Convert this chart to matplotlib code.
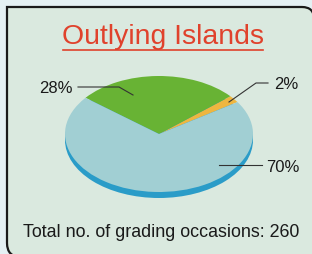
import matplotlib
matplotlib.use("Agg")
import matplotlib.pyplot as plt
from matplotlib.path import Path
from matplotlib.patches import PathPatch, Ellipse
import numpy as np

title = "Outlying Islands"
categories = ["Grade 2", "Grade 1", "Grade 3"]
values = [2, 28, 70]
labels = ["2%", "28%", "70%"]
colors = ["#eeb640", "#68b334", "#a1cfd3"]
footer = "Total no. of grading occasions: 260"

W, H = 312, 255
fig = plt.figure(figsize=(W / 100, H / 100), dpi=100)
fig.patch.set_facecolor("#e4f0f3")
plt.rcParams['font.family'] = ['Liberation Sans', 'DejaVu Sans']

def fx(x):
    return x / W

def fy(y):
    return 1 - y / H

# panel box
L, T, R, B = 7, 8, 314, 258
r1, r2 = 12, 14
verts = [(L, T), (R - r1, T), (R, T), (R, T + r1), (R, B), (L + r2, B), (L, B), (L, B - r2), (L, T)]
codes = [Path.MOVETO, Path.LINETO, Path.CURVE3, Path.CURVE3, Path.LINETO, Path.LINETO,
         Path.CURVE3, Path.CURVE3, Path.CLOSEPOLY]
path = Path([(fx(x), fy(y)) for x, y in verts], codes)
fig.patches.append(PathPatch(path, transform=fig.transFigure, facecolor="#dae9df",
                             edgecolor="#1a1a1a", lw=1.6, zorder=-5))

# pie axes
cx, cy, rx, ry, depth = 159, 135, 94, 58, 6
ax = fig.add_axes([fx(cx - rx), fy(cy + ry + depth), 2 * rx / W, (2 * ry + depth) / H])
ax.set_axis_off()
ax.patch.set_alpha(0)
d = depth / ry
ax.add_patch(Ellipse((0, -d), 2, 2, facecolor="#2a9cc8", edgecolor="none"))
ax.add_patch(plt.Rectangle((-1, -d), 2, d, facecolor="#2a9cc8", edgecolor="none"))
ax.pie(values, colors=colors, startangle=33.4, counterclock=True,
       wedgeprops=dict(linewidth=0), radius=1)
ax.set_aspect("auto")
ax.set_xlim(-1, 1)
ax.set_ylim(-1 - d, 1)

# title
fig.text(fx(163), fy(37), title, color="#e0422c", fontsize=20.4, ha="center", va="center")
fig.add_artist(plt.Line2D([fx(63), fx(263)], [fy(50.5), fy(50.5)], color="#e0422c", lw=1.2))

# leader lines
def line(pts):
    xs = [fx(p[0]) for p in pts]
    ys = [fy(p[1]) for p in pts]
    fig.add_artist(plt.Line2D(xs, ys, color="#333333", lw=0.8))

line([(78, 88), (119, 88), (133, 96)])
line([(268, 84), (256, 84), (229, 103)])
line([(219, 166), (262, 166)])

fig.text(fx(56), fy(89), labels[1], fontsize=12, ha="center", va="center", color="#1a1a1a")
fig.text(fx(286), fy(85), labels[0], fontsize=12, ha="center", va="center", color="#1a1a1a")
fig.text(fx(283), fy(167), labels[2], fontsize=12, ha="center", va="center", color="#1a1a1a")

fig.text(fx(161), fy(233), footer, fontsize=12.9, ha="center", va="center", color="#1a1a1a")

fig.savefig("out.png", dpi=100, facecolor=fig.get_facecolor())
